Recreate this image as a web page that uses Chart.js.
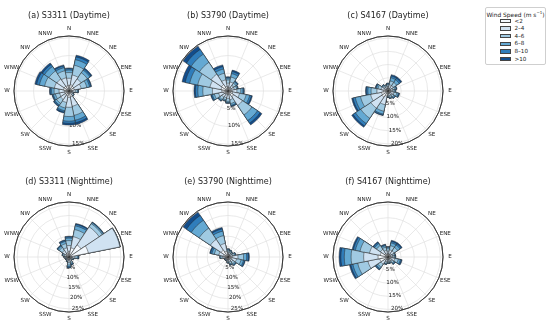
<!DOCTYPE html>
<html>
<head>
<meta charset="utf-8">
<script src="https://cdn.jsdelivr.net/npm/chart.js@4.4.0/dist/chart.umd.min.js"></script>
<style>
  body { margin: 0; background: #fff; }
  #wrap { position: relative; width: 550px; height: 322px; overflow: hidden; font-family: "DejaVu Sans", sans-serif; }
  #wrap canvas { position: absolute; }
  #legend { position: absolute; left: 485px; top: 7px; width: 61px; height: 58px; border: 0.8px solid #cfcfcf; border-radius: 2px; box-sizing: border-box; color: #222; }
  #legend .ttl { font-size: 5.9px; text-align: center; margin-top: 1.5px; white-space: nowrap; }
  #legend .ttl sup { font-size: 4px; }
  #legend .row { position: absolute; left: 14px; height: 6px; font-size: 5.6px; line-height: 6px; white-space: nowrap; }
  #legend .sw { display: inline-block; width: 11px; height: 4.5px; border: 0.6px solid #444; vertical-align: middle; margin-right: 3.5px; box-sizing: border-box; }
</style>
</head>
<body>
<div id="wrap">
  <div id="legend"><div class="ttl">Wind Speed (m s<sup>−1</sup>)</div></div>
</div>
<script>
const directions = ["N","NNE","NE","ENE","E","ESE","SE","SSE","S","SSW","SW","WSW","W","WNW","NW","NNW"];
const speedBins = ["<2","2-4","4-6","6-8","8-10",">10"];
const binColors = ["#f4f9fe","#d0e2f2","#a0cae2","#64a9d3","#2f7dbb","#124d8c"];

const plotTitles = ["(a) S3311 (Daytime)","(b) S3790 (Daytime)","(c) S4167 (Daytime)",
                    "(d) S3311 (Nighttime)","(e) S3790 (Nighttime)","(f) S4167 (Nighttime)"];
const plotMax = [15.5, 15.5, 20.8, 26.5, 26.5, 21];
const plotTicks = [[5,10,15],[5,10,15],[5,10,15,20],[5,10,15,20,25],[5,10,15,20,25],[5,10,15,20]];

// frequency (%) per direction, columns = speed bins (<2, 2-4, 4-6, 6-8, 8-10, >10)
const freqA = [
  [1.5,2.1,1.6,0.7,0.4,0.2],[1.8,2.8,2.8,1.6,0.8,0.5],[1.6,2.5,2.1,0.9,0.4,0.3],[1.5,2.0,1.6,0.8,0.4,0.2],
  [0.9,0.9,0.5,0.2,0.1,0.1],[0.6,0.5,0.2,0.1,0.05,0.05],[0.7,0.6,0.3,0.1,0.05,0.05],[1.7,2.7,2.6,1.4,0.7,0.5],
  [1.8,2.8,2.6,1.3,0.6,0.5],[1.4,1.9,1.6,0.8,0.4,0.3],[1.3,1.6,1.3,0.6,0.3,0.2],[1.2,1.5,1.2,0.6,0.25,0.15],
  [1.2,1.6,1.4,0.7,0.4,0.2],[1.6,2.6,2.8,1.5,0.8,0.5],[1.6,2.5,2.7,1.5,0.7,0.5],[1.5,2.3,2.0,0.9,0.5,0.3]
];
const freqB = [
  [1.0,1.2,0.9,0.5,0.25,0.15],[1.1,1.5,1.4,1.0,0.6,0.4],[0.9,1.0,0.8,0.45,0.2,0.15],[0.9,0.9,0.7,0.3,0.1,0.1],
  [1.1,1.4,1.1,0.6,0.25,0.15],[1.3,2.0,1.9,1.0,0.5,0.3],[1.9,3.0,3.2,1.9,0.9,0.6],[1.1,1.4,1.1,0.5,0.25,0.15],
  [1.0,1.1,0.8,0.35,0.15,0.1],[0.9,1.0,0.6,0.3,0.1,0.1],[1.0,1.1,0.8,0.35,0.15,0.1],[1.2,1.5,1.2,0.6,0.3,0.2],
  [1.7,2.7,2.7,1.4,0.7,0.4],[2.0,3.2,3.5,2.3,1.3,0.9],[2.2,3.5,4.0,2.8,1.6,1.1],[1.3,1.9,1.9,1.2,0.7,0.5]
];
const freqC = [
  [0.8,0.9,0.7,0.35,0.15,0.1],[1.0,1.4,1.5,1.2,0.7,0.5],[1.0,1.4,1.5,1.2,0.7,0.5],[0.9,1.0,0.8,0.45,0.2,0.15],
  [0.9,0.9,0.7,0.3,0.1,0.1],[1.0,1.3,1.1,0.6,0.3,0.2],[0.9,1.0,0.8,0.45,0.2,0.15],[0.9,0.9,0.7,0.3,0.1,0.1],
  [0.8,0.8,0.5,0.25,0.1,0.05],[2.0,3.3,2.5,1.1,0.4,0.2],[2.8,5.0,4.6,2.4,1.1,0.6],[2.5,4.2,3.9,2.0,0.9,0.5],
  [1.7,2.5,2.2,1.2,0.6,0.3],[1.2,1.5,1.2,0.6,0.3,0.2],[0.9,0.9,0.7,0.3,0.1,0.1],[0.8,0.8,0.5,0.25,0.1,0.05]
];
const freqD = [
  [2.5,3.0,2.4,1.2,0.6,0.3],[4.5,5.5,3.5,1.8,0.8,0.4],[7.0,10.5,1.8,0.6,0.25,0.15],[9.5,15.5,0.1,0.05,0.03,0.02],
  [1.3,1.5,1.1,0.5,0.25,0.15],[0.9,0.8,0.5,0.2,0.05,0.05],[0.8,0.6,0.4,0.15,0.03,0.02],[1.0,1.1,0.9,0.5,0.3,0.2],
  [1.2,1.4,1.2,0.8,0.4,0.3],[0.9,0.8,0.5,0.2,0.05,0.05],[0.8,0.6,0.4,0.15,0.03,0.02],[0.8,0.6,0.4,0.15,0.03,0.02],
  [0.9,0.8,0.5,0.2,0.05,0.05],[1.1,1.1,0.8,0.3,0.1,0.1],[1.8,2.1,1.7,0.8,0.4,0.2],[2.0,2.5,2.1,1.1,0.5,0.3]
];
const freqE = [
  [1.1,1.2,0.9,0.45,0.2,0.15],[1.0,1.1,0.8,0.35,0.15,0.1],[1.0,0.9,0.6,0.3,0.1,0.1],[1.1,1.2,0.9,0.45,0.2,0.15],
  [2.0,2.8,2.7,1.5,0.8,0.5],[1.8,2.4,2.2,1.2,0.6,0.3],[1.3,1.5,1.2,0.6,0.25,0.15],[1.2,1.2,0.9,0.4,0.2,0.1],
  [1.0,0.9,0.6,0.3,0.1,0.1],[0.8,0.6,0.4,0.15,0.03,0.02],[0.8,0.6,0.4,0.15,0.03,0.02],[0.8,0.6,0.4,0.15,0.03,0.02],
  [1.2,1.3,0.9,0.4,0.1,0.1],[2.0,2.5,2.2,1.2,0.7,0.4],[4.0,6.2,6.5,4.6,2.8,1.9],[2.8,3.9,3.8,2.2,1.1,0.7]
];
const freqF = [
  [1.0,1.2,0.9,0.5,0.25,0.15],[1.2,1.6,1.6,1.1,0.6,0.4],[1.2,1.6,1.6,1.1,0.6,0.4],[0.9,0.9,0.7,0.3,0.1,0.1],
  [0.9,0.9,0.7,0.3,0.1,0.1],[1.2,1.5,1.3,0.8,0.4,0.3],[0.9,1.0,0.8,0.45,0.2,0.15],[0.8,0.8,0.5,0.25,0.1,0.05],
  [0.8,0.8,0.5,0.25,0.1,0.05],[0.9,1.0,0.6,0.3,0.1,0.1],[1.5,1.8,1.4,0.7,0.4,0.2],[3.2,4.6,4.0,1.9,0.8,0.5],
  [3.8,5.5,4.8,2.6,1.3,0.7],[3.0,4.2,3.7,1.8,0.8,0.5],[1.5,2.0,1.8,0.9,0.5,0.3],[1.2,1.4,1.2,0.6,0.4,0.2]
];
const plotFreqs = [freqA, freqB, freqC, freqD, freqE, freqF];

const plotCenters = [[68.5,91],[228,91],[388,91],[68.5,257],[228,257],[388,257]];
const R = 55;            // rose radius in px
const labelAngle = 170 * Math.PI / 180; // where the % labels sit, clockwise from N

const roseDecor = {
  id: "roseDecor",
  beforeDatasetsDraw(chart, args, opts) {
    const r = chart.scales.r, ctx = chart.ctx;
    ctx.save();
    ctx.strokeStyle = "#e0e0e0";
    ctx.lineWidth = 0.7;
    directions.forEach((d, i) => {
      const p = r.getPointPosition(i, r.drawingArea, Math.PI / directions.length);
      ctx.beginPath();
      ctx.moveTo(r.xCenter, r.yCenter);
      ctx.lineTo(p.x, p.y);
      ctx.stroke();
    });
    ctx.font = '5.6px "DejaVu Sans"';
    ctx.fillStyle = "#222";
    ctx.textAlign = "center";
    ctx.textBaseline = "middle";
    opts.ticks.forEach(v => {
      const dist = r.getDistanceFromCenterForValue(v);
      ctx.fillText(v + "%", r.xCenter + dist * Math.sin(labelAngle), r.yCenter - dist * Math.cos(labelAngle));
    });
    ctx.restore();
  },
  afterDatasetsDraw(chart) {
    const r = chart.scales.r, ctx = chart.ctx;
    ctx.save();
    ctx.strokeStyle = "#333";
    ctx.lineWidth = 0.9;
    ctx.beginPath();
    ctx.arc(r.xCenter, r.yCenter, r.getDistanceFromCenterForValue(r.max), 0, Math.PI * 2);
    ctx.stroke();
    ctx.font = '5.6px "DejaVu Sans"';
    ctx.fillStyle = "#222";
    ctx.textAlign = "center";
    ctx.textBaseline = "middle";
    directions.forEach((d, i) => {
      const p = r.getPointPosition(i, r.drawingArea + 7, Math.PI / directions.length);
      ctx.fillText(d, p.x, p.y);
    });
    ctx.restore();
  }
};

const wrap = document.getElementById("wrap");
const W = 140, H = 150;

plotTitles.forEach((title, k) => {
  const [cx, cy] = plotCenters[k];
  const canvas = document.createElement("canvas");
  canvas.width = W; canvas.height = H;
  canvas.style.left = (cx - W / 2) + "px";
  canvas.style.top = (cy - 82) + "px";
  wrap.appendChild(canvas);

  const freq = plotFreqs[k];
  const max = plotMax[k];
  const datasets = speedBins.map((bin, b) => ({
    label: bin,
    data: freq.map(row => row.slice(0, b + 1).reduce((s, v) => s + v, 0)),
    backgroundColor: binColors[b],
    borderColor: "#2b2b2b",
    borderWidth: 0.5
  }));

  new Chart(canvas, {
    type: "polarArea",
    data: { labels: directions, datasets },
    options: {
      responsive: false,
      animation: false,
      layout: { padding: { left: W / 2 - R, right: W / 2 - R, top: 0, bottom: H - 137 } },
      plugins: {
        legend: { display: false },
        tooltip: { enabled: false },
        title: {
          display: true, text: title, color: "#222",
          font: { family: "DejaVu Sans", size: 8, weight: "normal" },
          padding: { top: 2.2, bottom: 15.2 }
        },
        roseDecor: { ticks: plotTicks[k] }
      },
      scales: {
        r: {
          min: 0, max: max,
          startAngle: -180 / directions.length,
          afterBuildTicks: s => { s.ticks = [0, ...plotTicks[k], max].map(v => ({ value: v })); },
          ticks: { display: false },
          pointLabels: { display: false },
          angleLines: { display: false },
          grid: {
            circular: true,
            color: c => (c.tick && c.tick.value >= max ? "#333" : "#e0e0e0"),
            lineWidth: 0.7
          }
        }
      }
    },
    plugins: [roseDecor]
  });
});

// legend box
const legend = document.getElementById("legend");
speedBins.forEach((bin, b) => {
  const row = document.createElement("div");
  row.className = "row";
  row.style.top = (9.5 + b * 7.6) + "px";
  row.innerHTML = '<span class="sw" style="background:' + binColors[b] + '"></span>' + bin.replace("-", "–");
  legend.appendChild(row);
});
</script>
</body>
</html>
